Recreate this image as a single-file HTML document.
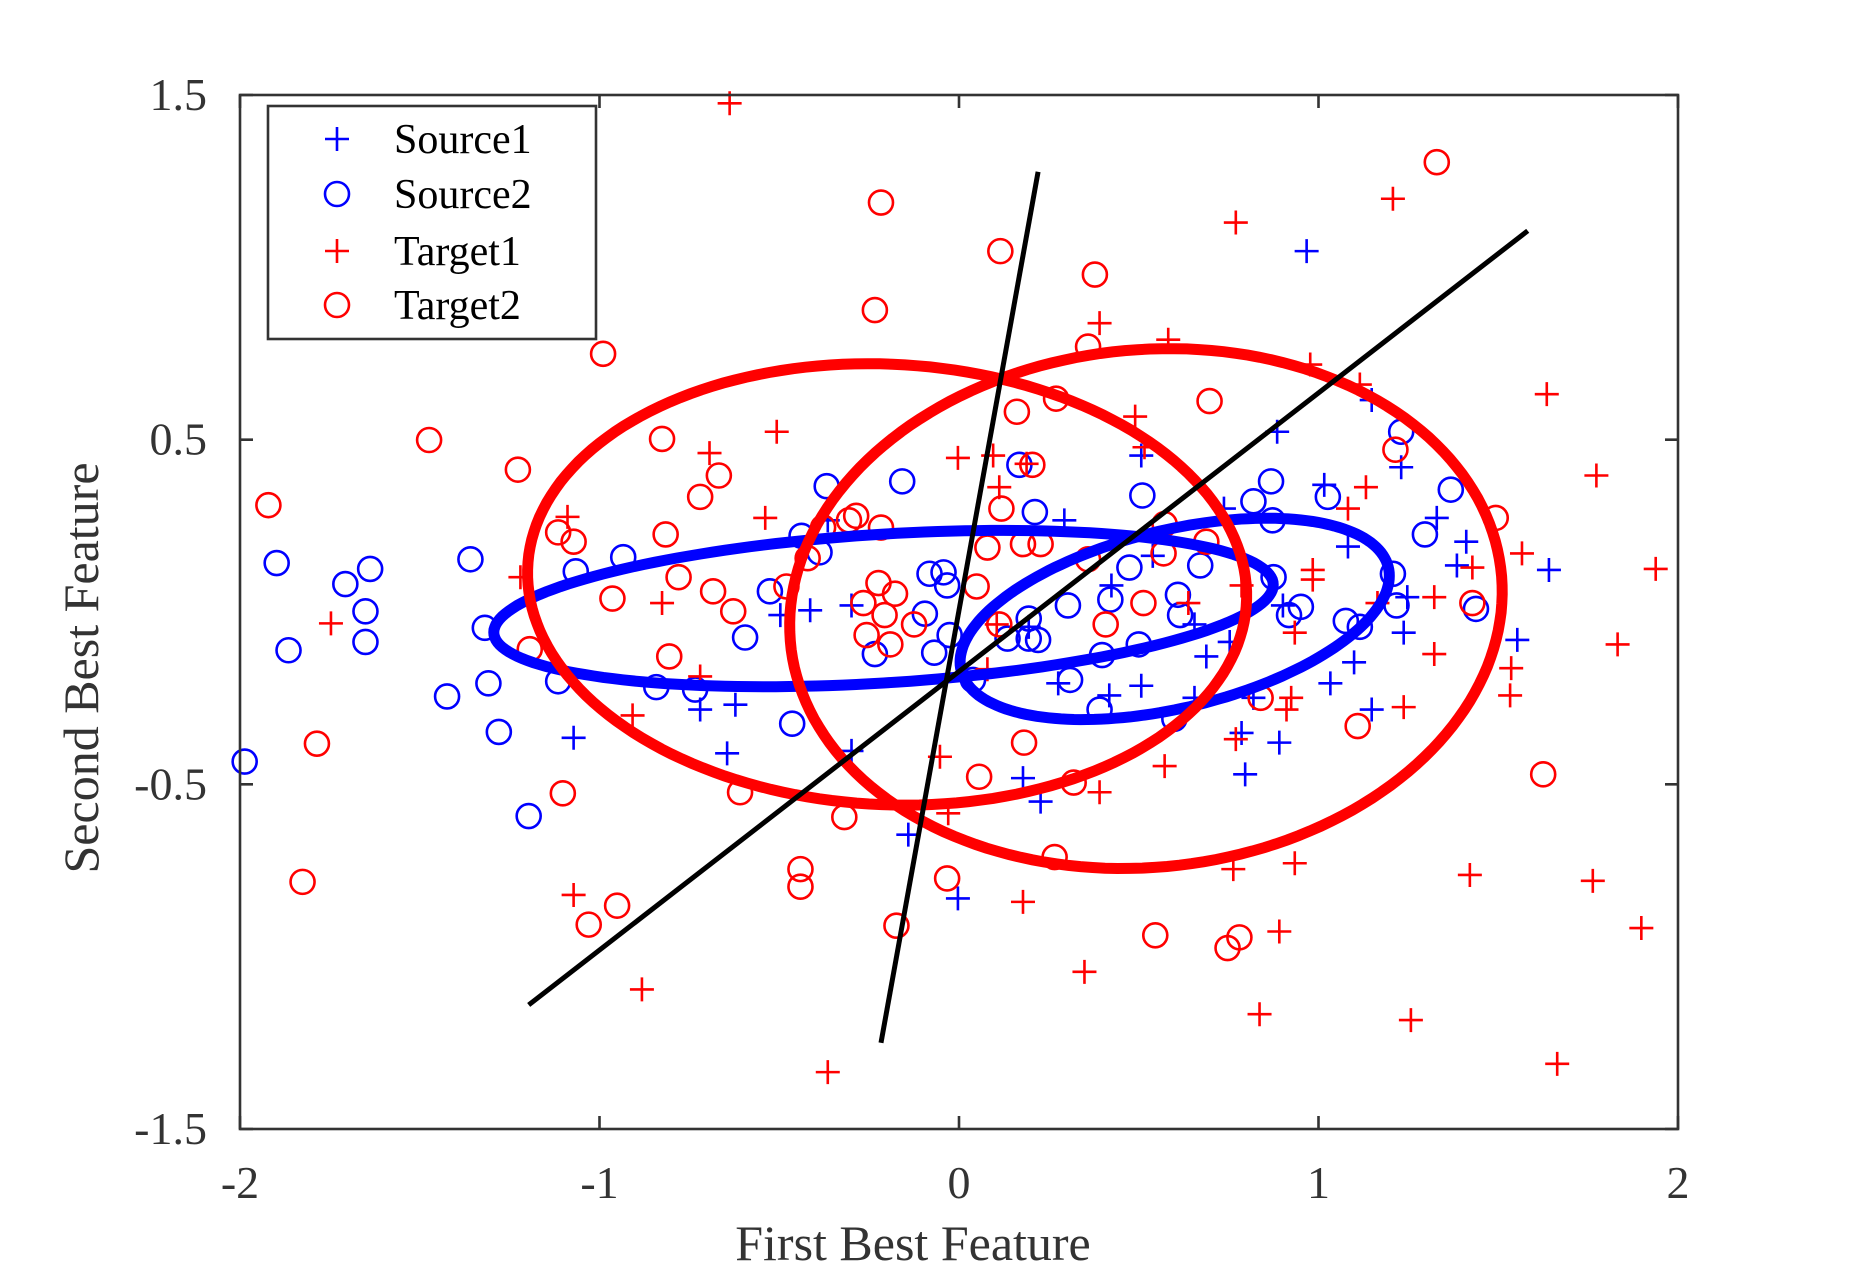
<!DOCTYPE html>
<html><head><meta charset="utf-8"><style>
html,body{margin:0;padding:0;background:#fff;}
svg{display:block;font-family:"Liberation Serif",serif;}
</style></head><body>
<svg id="chart" width="1854" height="1271" viewBox="0 0 1854 1271" xmlns="http://www.w3.org/2000/svg">
<rect width="1854" height="1271" fill="#fff"/>
<g id="marks"></g>
<g id="axes"></g>
<g id="legend"></g>
</svg>
<script>
const xTicks=[-2,-1,0,1,2];
const yTicks=[-1.5,-0.5,0.5,1.5];
const xTickLabels=["-2","-1","0","1","2"];
const yTickLabels=["-1.5","-0.5","0.5","1.5"];
const source1=[[0.967,1.047],[0.885,0.523],[1.148,0.615],[1.230,0.420],[1.329,0.273],[1.411,0.204],[1.385,0.135],[1.247,0.043],[1.641,0.122],[1.553,-0.081],[1.148,-0.283],[1.033,-0.207],[1.099,-0.146],[0.786,-0.351],[0.891,-0.379],[0.796,-0.471],[0.753,-0.087],[0.655,-0.036],[0.688,-0.129],[0.507,-0.214],[0.418,-0.242],[0.424,0.077],[0.539,0.163],[0.293,0.266],[0.276,-0.207],[0.227,-0.550],[0.178,-0.482],[-0.003,-0.831],[-0.141,-0.646],[-0.299,-0.403],[-0.645,-0.410],[-0.720,-0.283],[-0.622,-0.269],[-1.072,-0.365],[-0.497,-0.009],[-0.414,0.005],[-0.299,0.019],[-0.365,0.266],[0.194,-0.043],[0.507,0.454],[0.737,0.300],[0.819,-0.249],[1.016,0.369],[1.082,0.190],[0.655,-0.249],[0.901,0.019],[1.237,-0.060]];
const source2=[[-1.987,-0.434],[-1.898,0.142],[-1.865,-0.111],[-1.707,0.081],[-1.651,0.002],[-1.651,-0.087],[-1.638,0.125],[-1.424,-0.245],[-1.359,0.153],[-1.319,-0.046],[-1.309,-0.207],[-1.280,-0.348],[-1.197,-0.592],[-1.115,-0.201],[-1.066,0.118],[-0.934,0.159],[-0.842,-0.218],[-0.734,-0.225],[-0.595,-0.074],[-0.526,0.060],[-0.464,-0.324],[-0.438,0.221],[-0.368,0.365],[-0.388,0.173],[-0.234,-0.122],[-0.158,0.379],[-0.095,-0.005],[-0.082,0.111],[-0.069,-0.118],[-0.043,0.115],[-0.033,0.077],[-0.026,-0.067],[0.039,-0.197],[0.168,0.427],[0.211,0.290],[0.194,-0.077],[0.220,-0.081],[0.303,0.019],[0.309,-0.197],[0.391,-0.283],[0.398,-0.125],[0.421,0.036],[0.474,0.129],[0.500,-0.094],[0.510,0.338],[0.599,-0.310],[0.609,0.050],[0.615,-0.009],[0.671,0.135],[0.819,0.321],[0.868,0.379],[0.872,0.266],[0.875,0.101],[0.918,-0.009],[0.951,0.015],[1.026,0.334],[1.076,-0.026],[1.115,-0.043],[1.207,0.111],[1.217,0.019],[1.296,0.225],[1.368,0.355],[1.438,0.009],[1.230,0.523],[0.194,-0.019],[0.135,-0.077]];
const target1=[[-0.638,1.476],[0.770,1.130],[1.207,1.199],[0.391,0.838],[0.582,0.790],[0.977,0.718],[1.115,0.660],[1.635,0.632],[1.773,0.396],[1.938,0.125],[1.832,-0.094],[1.566,0.170],[1.536,-0.163],[1.533,-0.242],[1.428,0.129],[1.322,-0.122],[1.237,-0.276],[1.132,0.362],[1.082,0.300],[0.984,0.094],[0.934,-0.060],[0.924,-0.249],[0.911,-0.283],[0.770,-0.369],[0.763,-0.746],[0.934,-0.729],[0.891,-0.927],[0.836,-1.167],[1.257,-1.184],[1.421,-0.763],[1.763,-0.780],[1.898,-0.917],[1.664,-1.311],[0.349,-1.044],[0.178,-0.841],[-0.365,-1.335],[-0.882,-1.095],[-1.072,-0.821],[-0.908,-0.300],[-0.720,-0.187],[-0.826,0.026],[-1.220,0.101],[-1.747,-0.033],[-1.089,0.276],[-0.694,0.461],[-0.507,0.523],[-0.539,0.273],[-0.003,0.447],[0.095,0.454],[0.112,0.362],[0.188,0.430],[0.572,-0.447],[0.391,-0.523],[-0.030,-0.584],[-0.053,-0.420],[0.490,0.567],[0.516,0.478],[0.079,-0.166],[0.105,-0.036],[0.984,0.122],[1.164,0.026],[1.322,0.043],[0.786,0.077],[0.638,0.026]];
const target2=[[1.329,1.305],[-0.217,1.188],[0.115,1.047],[0.378,0.979],[-0.234,0.876],[-0.990,0.749],[0.359,0.770],[0.270,0.619],[0.697,0.612],[0.161,0.581],[-1.474,0.499],[-0.826,0.502],[-1.227,0.413],[-0.668,0.396],[-0.720,0.334],[0.204,0.427],[0.118,0.300],[-0.378,0.245],[-0.306,0.266],[-0.286,0.279],[-0.217,0.245],[-1.072,0.204],[-1.115,0.231],[-0.816,0.225],[-0.780,0.101],[-0.964,0.039],[-0.684,0.060],[-0.628,0.002],[-0.480,0.074],[-0.421,0.156],[-0.224,0.084],[-0.178,0.053],[-0.257,-0.067],[-0.191,-0.094],[-0.207,-0.009],[-0.266,0.026],[-0.125,-0.036],[0.079,0.187],[0.178,0.197],[0.227,0.197],[0.049,0.074],[0.112,-0.036],[0.359,0.153],[0.408,-0.036],[0.513,0.026],[0.572,0.255],[0.569,0.170],[0.688,0.204],[1.214,0.471],[1.493,0.273],[1.428,0.026],[1.625,-0.471],[1.109,-0.331],[0.839,-0.249],[0.181,-0.379],[0.056,-0.478],[0.319,-0.495],[0.266,-0.711],[-0.609,-0.523],[-0.319,-0.595],[-0.441,-0.746],[-0.441,-0.797],[-0.033,-0.773],[-0.174,-0.910],[-0.951,-0.852],[-1.030,-0.907],[-1.194,-0.108],[-1.102,-0.526],[-1.786,-0.382],[-1.921,0.310],[-1.826,-0.783],[0.546,-0.938],[0.780,-0.944],[0.747,-0.975],[-0.806,-0.129]];
// ellipses: center, conjugate semi-diameter vectors u, v (data units)
const ellipseCenters=[[-0.21,0.01],[0.60,-0.02],[-0.20,0.08],[0.52,0.01]];
const ellipseU=[[1.084,0.069],[0.597,0.125],[1.0,-0.02],[0.99,0.015]];
const ellipseV=[[0,0.216],[0,0.264],[-0.02,0.64],[0.045,0.754]];
const ellipseColors=["#0000ff","#0000ff","#ff0000","#ff0000"];
const lineStarts=[[-1.197,-1.14],[-0.217,-1.25]];
const lineEnds=[[1.582,1.106],[0.22,1.277]];

const L=240,R=1678,T=95,B=1129;
const sx=v=>L+(v+2)/4*(R-L);
const sy=v=>B-(v+1.5)/3*(B-T);
const NS="http://www.w3.org/2000/svg";
function mk(tag,attrs,parent){const e=document.createElementNS(NS,tag);for(const k in attrs)e.setAttribute(k,attrs[k]);parent.appendChild(e);return e;}
const marks=document.getElementById('marks'),axes=document.getElementById('axes'),leg=document.getElementById('legend');

function plus(x,y,c,p,name){const g=mk('path',{d:`M${x-12},${y}H${x+12}M${x},${y-12}V${y+12}`,stroke:c,'stroke-width':2.6,fill:'none'},p);

return g;}
function circ(x,y,c,p,name){const g=mk('circle',{cx:x,cy:y,r:12,stroke:c,'stroke-width':2.6,fill:'none'},p);

return g;}

source1.forEach(d=>plus(sx(d[0]),sy(d[1]),'#0000ff',marks,'source1-point'));
source2.forEach(d=>circ(sx(d[0]),sy(d[1]),'#0000ff',marks,'source2-point'));
target1.forEach(d=>plus(sx(d[0]),sy(d[1]),'#ff0000',marks,'target1-point'));
target2.forEach(d=>circ(sx(d[0]),sy(d[1]),'#ff0000',marks,'target2-point'));

ellipseCenters.forEach((c,i)=>{let pts=[];for(let k=0;k<=180;k++){const t=k/180*2*Math.PI;
const x=c[0]+ellipseU[i][0]*Math.cos(t)+ellipseV[i][0]*Math.sin(t);
const y=c[1]+ellipseU[i][1]*Math.cos(t)+ellipseV[i][1]*Math.sin(t);
pts.push(sx(x).toFixed(1)+','+sy(y).toFixed(1));}
const e=mk('polygon',{points:pts.join(' '),fill:'none',stroke:ellipseColors[i],'stroke-width':11},marks);

});

lineStarts.forEach((s,i)=>{const e=mk('line',{x1:sx(s[0]),y1:sy(s[1]),x2:sx(lineEnds[i][0]),y2:sy(lineEnds[i][1]),stroke:'#000','stroke-width':5},marks);

});

// axes
const box=mk('rect',{x:L,y:T,width:R-L,height:B-T,fill:'none',stroke:'#333','stroke-width':2.6},axes);


xTicks.forEach((v,i)=>{const x=sx(v);
mk('path',{d:`M${x},${B}V${B-13}M${x},${T}V${T+13}`,stroke:'#333','stroke-width':2.6},axes);
const t=mk('text',{x:x,y:1198,'text-anchor':'middle','font-size':46,fill:'#333'},axes);t.textContent=xTickLabels[i];

});
yTicks.forEach((v,i)=>{const y=sy(v);
mk('path',{d:`M${L},${y}H${L+13}M${R},${y}H${R-13}`,stroke:'#333','stroke-width':2.6},axes);
const t=mk('text',{x:207,y:y+15,'text-anchor':'end','font-size':46,fill:'#333'},axes);t.textContent=yTickLabels[i];

});
const xl=mk('text',{x:913,y:1260,'text-anchor':'middle','font-size':50,fill:'#333'},axes);xl.textContent='First Best Feature';


const yl=mk('text',{x:0,y:0,'text-anchor':'middle','font-size':50,fill:'#333',transform:'translate(98,668) rotate(-90)'},axes);yl.textContent='Second Best Feature';



// legend
const lb=mk('rect',{x:268,y:106,width:328,height:233,fill:'#fff',stroke:'#333','stroke-width':2.6},leg);


const names=["Source1","Source2","Target1","Target2"],cols=["#0000ff","#0000ff","#ff0000","#ff0000"],ly=[139,194,251,305];
names.forEach((n,i)=>{const g=mk('g',{},leg);


if(i%2===0)plus(337,ly[i],cols[i],g,'legend-marker');else circ(337,ly[i],cols[i],g,'legend-marker');
const t=mk('text',{x:394,y:ly[i]+14,'font-size':42,fill:'#000'},g);t.textContent=n;

});
</script>
</body></html>
